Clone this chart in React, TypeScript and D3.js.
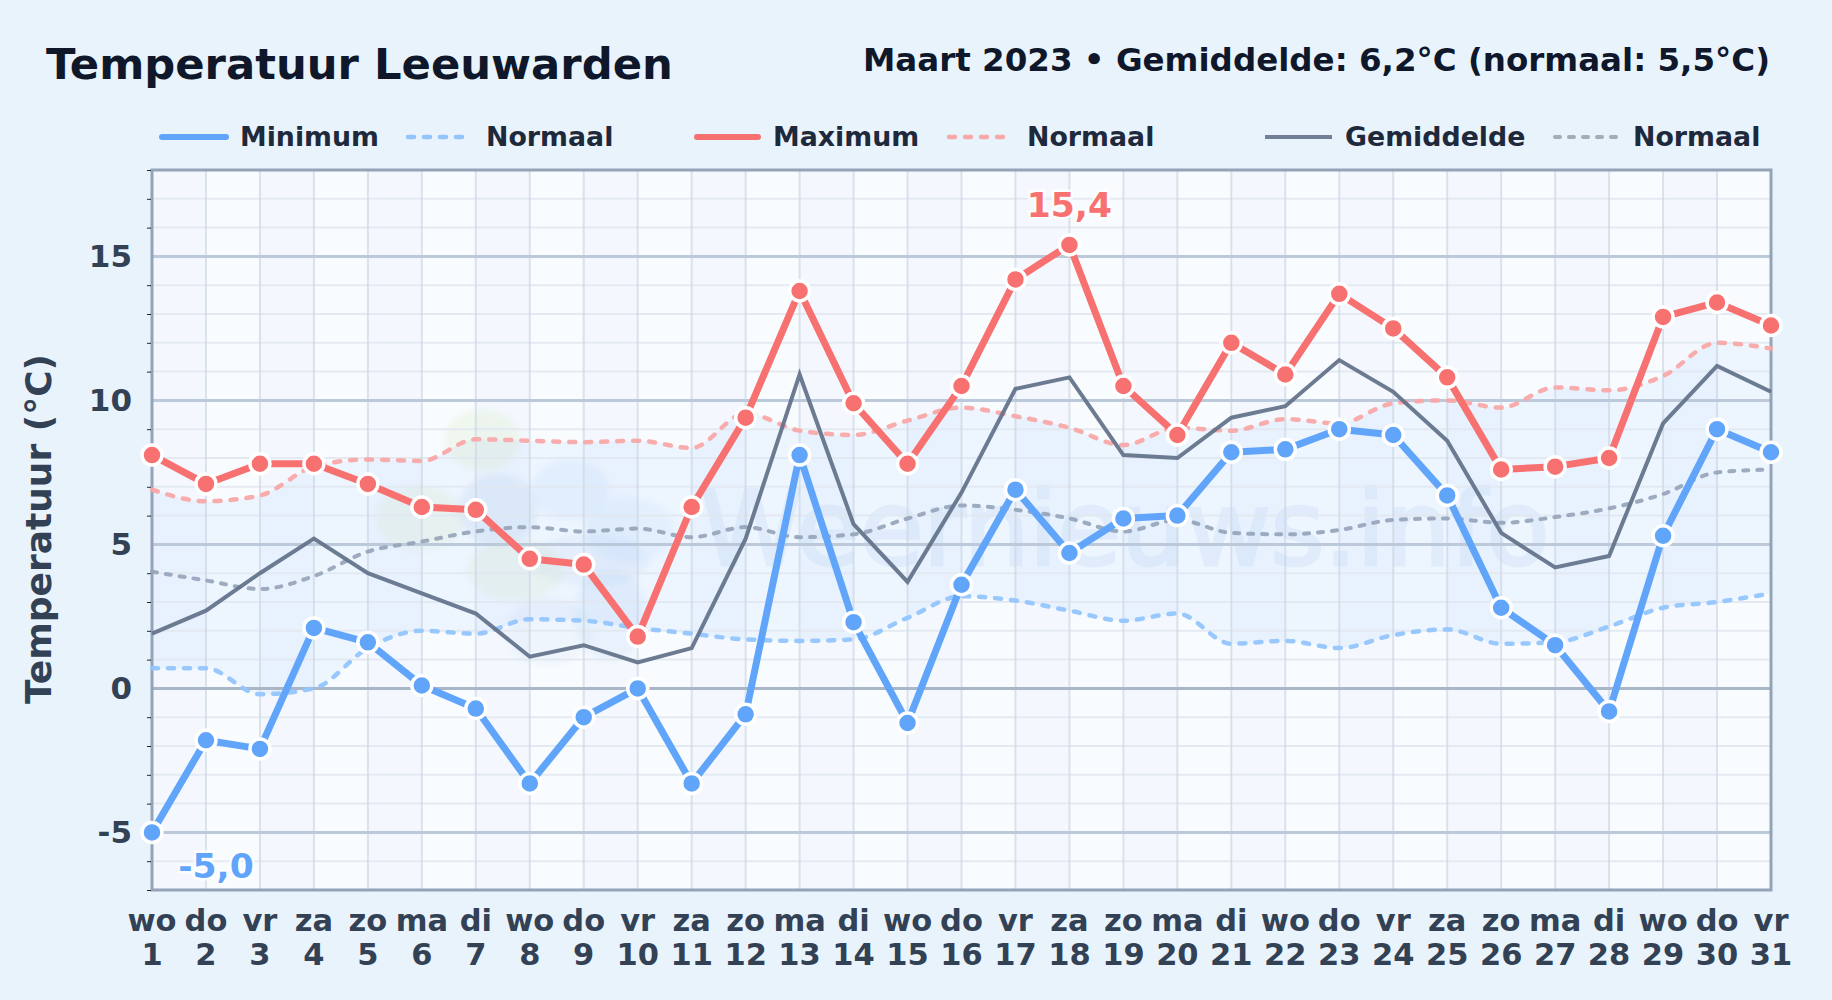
import React, { useRef, useEffect } from 'react';
import * as d3 from 'd3';

const dayNames = ['wo', 'do', 'vr', 'za', 'zo', 'ma', 'di', 'wo', 'do', 'vr', 'za', 'zo', 'ma', 'di', 'wo', 'do', 'vr', 'za', 'zo', 'ma', 'di', 'wo', 'do', 'vr', 'za', 'zo', 'ma', 'di', 'wo', 'do', 'vr'];
const days = d3.range(1, 32);

const minimum = [-5.0, -1.8, -2.1, 2.1, 1.6, 0.1, -0.7, -3.3, -1.0, 0.0, -3.3, -0.9, 8.1, 2.3, -1.2, 3.6, 6.9, 4.7, 5.9, 6.0, 8.2, 8.3, 9.0, 8.8, 6.7, 2.8, 1.5, -0.8, 5.3, 9.0, 8.2];
const maximum = [8.1, 7.1, 7.8, 7.8, 7.1, 6.3, 6.2, 4.5, 4.3, 1.8, 6.3, 9.4, 13.8, 9.9, 7.8, 10.5, 14.2, 15.4, 10.5, 8.8, 12.0, 10.9, 13.7, 12.5, 10.8, 7.6, 7.7, 8.0, 12.9, 13.4, 12.6];
const average = [1.9, 2.7, 4.0, 5.2, 4.0, 3.3, 2.6, 1.1, 1.5, 0.9, 1.4, 5.2, 10.9, 5.7, 3.7, 6.8, 10.4, 10.8, 8.1, 8.0, 9.4, 9.8, 11.4, 10.3, 8.6, 5.4, 4.2, 4.6, 9.2, 11.2, 10.3];
const normalMin = [0.7, 0.7, -0.2, 0.0, 1.4, 2.0, 1.9, 2.4, 2.35, 2.1, 1.9, 1.7, 1.65, 1.7, 2.45, 3.2, 3.05, 2.7, 2.35, 2.6, 1.55, 1.65, 1.4, 1.85, 2.05, 1.55, 1.6, 2.15, 2.8, 3.0, 3.3];
const normalMax = [6.9, 6.5, 6.7, 7.7, 7.95, 7.9, 8.65, 8.6, 8.55, 8.6, 8.35, 9.55, 8.95, 8.8, 9.3, 9.75, 9.45, 9.05, 8.45, 9.05, 8.95, 9.35, 9.2, 9.9, 10.0, 9.75, 10.45, 10.35, 10.85, 12.0, 11.8];
const normalAvg = [4.05, 3.75, 3.45, 3.9, 4.75, 5.1, 5.45, 5.6, 5.45, 5.55, 5.25, 5.6, 5.25, 5.35, 5.9, 6.35, 6.2, 5.9, 5.45, 5.85, 5.4, 5.35, 5.5, 5.85, 5.9, 5.75, 5.95, 6.25, 6.75, 7.5, 7.6];

const majorTicks = [-5, 0, 5, 10, 15];
const minorTicks = d3.range(-7, 19).filter(v => v % 5 !== 0);

const FONT = '"DejaVu Sans", sans-serif';
const BLUE = '#60a5fa';
const RED = '#f87171';
const SLATE = '#334155';

const App: React.FC = () => {
    const svgRef = useRef<SVGSVGElement | null>(null);
    const width = 1832;
    const height = 1000;
    const margin = { top: 170, right: 61, bottom: 110, left: 152 };

    useEffect(() => {
        if (!svgRef.current) return;

        const svg = d3.select(svgRef.current);
        svg.selectAll('*').remove();

        const x = d3.scaleLinear().domain([1, 31]).range([margin.left, width - margin.right]);
        const y = d3.scaleLinear().domain([-7, 18]).range([height - margin.bottom, margin.top]);
        const plotW = width - margin.left - margin.right;
        const plotH = height - margin.top - margin.bottom;

        svg.append('rect').attr('width', width).attr('height', height).attr('fill', '#e9f3fc');

        // Plot background, every other day a little darker
        svg.append('rect')
            .attr('x', margin.left).attr('y', margin.top)
            .attr('width', plotW).attr('height', plotH)
            .attr('fill', '#f9fcff');
        svg.append('g').selectAll('rect')
            .data(days.filter(d => d % 2 === 1 && d < 31))
            .join('rect')
            .attr('x', d => x(d))
            .attr('y', margin.top)
            .attr('width', d => x(d + 1) - x(d))
            .attr('height', plotH)
            .attr('fill', '#f4f8fe');

        // Band between the normals
        const band = d3.area<number>()
            .x(d => x(d))
            .y0(d => y(normalMin[d - 1]))
            .y1(d => y(normalMax[d - 1]))
            .curve(d3.curveMonotoneX);
        svg.append('path').attr('d', band(days)).attr('fill', 'rgba(96, 165, 250, 0.08)');

        // Watermark
        const wm = svg.append('g').attr('style', 'filter: blur(3px)');
        const blobs: [number, number, number, number, string][] = [
            [482, 440, 38, 30, 'rgba(200, 225, 160, 0.18)'],
            [420, 518, 44, 32, 'rgba(200, 225, 160, 0.16)'],
            [516, 570, 48, 30, 'rgba(200, 225, 160, 0.16)'],
            [498, 510, 40, 36, 'rgba(90, 140, 205, 0.09)'],
            [590, 560, 60, 26, 'rgba(90, 140, 205, 0.06)'],
            [570, 490, 38, 30, 'rgba(110, 175, 235, 0.09)'],
            [630, 530, 44, 32, 'rgba(110, 175, 235, 0.08)'],
            [610, 615, 36, 46, 'rgba(110, 175, 235, 0.09)'],
            [548, 632, 42, 34, 'rgba(90, 140, 205, 0.06)'],
        ];
        wm.selectAll('ellipse')
            .data(blobs)
            .join('ellipse')
            .attr('cx', d => d[0]).attr('cy', d => d[1])
            .attr('rx', d => d[2]).attr('ry', d => d[3])
            .attr('fill', d => d[4]);
        svg.append('text')
            .attr('x', 700).attr('y', 565)
            .attr('font-family', FONT).attr('font-size', 104)
            .attr('textLength', 850)
            .attr('fill', '#3f88d8').attr('stroke', '#3f88d8').attr('stroke-width', 3)
            .attr('opacity', 0.07)
            .text('Weernieuws.info');

        // Grid
        const grid = svg.append('g');
        grid.selectAll('line.minor')
            .data(minorTicks)
            .join('line')
            .attr('class', 'minor')
            .attr('x1', margin.left).attr('x2', width - margin.right)
            .attr('y1', d => y(d)).attr('y2', d => y(d))
            .attr('stroke', '#e2e8f0').attr('stroke-width', 2).attr('opacity', 0.85);
        grid.selectAll('line.day')
            .data(days)
            .join('line')
            .attr('class', 'day')
            .attr('x1', d => x(d)).attr('x2', d => x(d))
            .attr('y1', margin.top).attr('y2', height - margin.bottom)
            .attr('stroke', '#cbd5e1').attr('stroke-width', 2).attr('opacity', 0.65);
        grid.selectAll('line.major')
            .data(majorTicks)
            .join('line')
            .attr('class', 'major')
            .attr('x1', margin.left).attr('x2', width - margin.right)
            .attr('y1', d => y(d)).attr('y2', d => y(d))
            .attr('stroke', d => d === 0 ? '#a9b6c8' : '#bcc9da').attr('stroke-width', 3);

        // Frame
        svg.append('rect')
            .attr('x', margin.left).attr('y', margin.top)
            .attr('width', plotW).attr('height', plotH)
            .attr('fill', 'none').attr('stroke', '#94a3b8').attr('stroke-width', 3);

        // Axes
        const minorAxis = svg.append('g')
            .attr('transform', `translate(${margin.left - 1},0)`)
            .call(d3.axisLeft(y).tickValues(minorTicks.concat([-7, 18])).tickSize(4).tickFormat(() => ''));
        minorAxis.select('.domain').remove();
        minorAxis.selectAll('line').attr('stroke', '#1e293b');

        const yAxis = svg.append('g')
            .attr('transform', `translate(${margin.left},0)`)
            .call(d3.axisLeft(y).tickValues(majorTicks).tickSize(0).tickPadding(20).tickFormat(d => String(d)));
        yAxis.select('.domain').remove();
        yAxis.selectAll('text')
            .attr('font-family', FONT).attr('font-size', 31).attr('font-weight', 700)
            .attr('fill', SLATE);

        const labels = svg.append('g')
            .attr('font-family', FONT).attr('font-size', 30.5).attr('font-weight', 700)
            .attr('fill', SLATE).attr('text-anchor', 'middle');
        labels.selectAll('text.name')
            .data(days)
            .join('text')
            .attr('class', 'name')
            .attr('x', d => x(d)).attr('y', 931)
            .text(d => dayNames[d - 1]);
        labels.selectAll('text.num')
            .data(days)
            .join('text')
            .attr('class', 'num')
            .attr('x', d => x(d)).attr('y', 965)
            .text(d => d);

        // Lines
        const line = (values: number[], curve: d3.CurveFactory) => d3.line<number>()
            .x(d => x(d))
            .y(d => y(values[d - 1]))
            .curve(curve)(days);

        svg.append('path').attr('d', line(normalMin, d3.curveMonotoneX))
            .attr('fill', 'none').attr('stroke', '#93c5fd').attr('stroke-width', 4.5)
            .attr('stroke-dasharray', '6,10').attr('stroke-linecap', 'round').attr('opacity', 0.95);
        svg.append('path').attr('d', line(normalMax, d3.curveMonotoneX))
            .attr('fill', 'none').attr('stroke', '#f9a8a8').attr('stroke-width', 4.5)
            .attr('stroke-dasharray', '6,10').attr('stroke-linecap', 'round').attr('opacity', 0.95);
        svg.append('path').attr('d', line(normalAvg, d3.curveMonotoneX))
            .attr('fill', 'none').attr('stroke', '#94a3b8').attr('stroke-width', 4)
            .attr('stroke-dasharray', '5,9').attr('stroke-linecap', 'round').attr('opacity', 0.9);
        svg.append('path').attr('d', line(average, d3.curveLinear))
            .attr('fill', 'none').attr('stroke', '#64748b').attr('stroke-width', 4)
            .attr('stroke-linejoin', 'miter').attr('opacity', 0.95);

        const series: [number[], string][] = [[minimum, BLUE], [maximum, RED]];
        series.forEach(([values, color]) => {
            svg.append('path').attr('d', line(values, d3.curveLinear))
                .attr('fill', 'none').attr('stroke', color).attr('stroke-width', 7)
                .attr('stroke-linejoin', 'round').attr('stroke-linecap', 'round');
            svg.append('g').selectAll('circle')
                .data(days)
                .join('circle')
                .attr('cx', d => x(d))
                .attr('cy', d => y(values[d - 1]))
                .attr('r', 10)
                .attr('fill', color)
                .attr('stroke', '#fff')
                .attr('stroke-width', 3.5);
        });

        // Extreme labels
        const maxDay = days[d3.maxIndex(maximum)];
        const minDay = days[d3.minIndex(minimum)];
        const extremes: [string, number, number, string][] = [
            ['15,4', x(maxDay), 217, RED],
            ['-5,0', x(minDay) + 64, 878, BLUE],
        ];
        svg.append('g').selectAll('text')
            .data(extremes)
            .join('text')
            .attr('x', d => d[1]).attr('y', d => d[2])
            .attr('text-anchor', 'middle')
            .attr('font-family', FONT).attr('font-size', 34.5).attr('font-weight', 700)
            .attr('fill', d => d[3])
            .attr('stroke', '#fff').attr('stroke-width', 5).attr('stroke-opacity', 0.8)
            .attr('paint-order', 'stroke')
            .text(d => d[0]);

        // Titles
        svg.append('text')
            .attr('x', 46).attr('y', 79)
            .attr('font-family', FONT).attr('font-size', 43.3).attr('font-weight', 700)
            .attr('fill', '#0f172a')
            .text('Temperatuur Leeuwarden');
        svg.append('text')
            .attr('x', 1770).attr('y', 71)
            .attr('text-anchor', 'end')
            .attr('font-family', FONT).attr('font-size', 32.5).attr('font-weight', 700)
            .attr('fill', '#0f172a')
            .text('Maart 2023 • Gemiddelde: 6,2°C (normaal: 5,5°C)');
        svg.append('text')
            .attr('transform', 'translate(51,529) rotate(-90)')
            .attr('text-anchor', 'middle')
            .attr('font-family', FONT).attr('font-size', 36).attr('font-weight', 700)
            .attr('fill', SLATE)
            .text('Temperatuur (°C)');

        // Legend
        const legend: { label: string; x0: number; x1: number; tx: number; color: string; w: number; dash?: string }[] = [
            { label: 'Minimum', x0: 162, x1: 226, tx: 240, color: BLUE, w: 6 },
            { label: 'Normaal', x0: 408, x1: 463, tx: 486, color: '#93c5fd', w: 4.5, dash: '6,10' },
            { label: 'Maximum', x0: 697, x1: 758, tx: 773, color: RED, w: 6 },
            { label: 'Normaal', x0: 949, x1: 1004, tx: 1027, color: '#f9a8a8', w: 4.5, dash: '6,10' },
            { label: 'Gemiddelde', x0: 1265, x1: 1332, tx: 1345, color: '#718096', w: 4 },
            { label: 'Normaal', x0: 1555, x1: 1617, tx: 1633, color: '#a3acb9', w: 4, dash: '5,9' },
        ];
        const legendG = svg.append('g');
        legendG.selectAll('line')
            .data(legend)
            .join('line')
            .attr('x1', d => d.x0).attr('x2', d => d.x1)
            .attr('y1', 137).attr('y2', 137)
            .attr('stroke', d => d.color).attr('stroke-width', d => d.w)
            .attr('stroke-linecap', d => d.label === 'Gemiddelde' ? 'butt' : 'round')
            .attr('stroke-dasharray', d => d.dash ?? null);
        legendG.selectAll('text')
            .data(legend)
            .join('text')
            .attr('x', d => d.tx).attr('y', 146)
            .attr('font-family', FONT).attr('font-size', 26.8).attr('font-weight', 700)
            .attr('fill', '#1e293b')
            .text(d => d.label);
    }, []);

    return <svg ref={svgRef} width={width} height={height} viewBox={`0 0 ${width} ${height}`} style={{ position: 'absolute', left: 0, top: 0 }}></svg>;
};

export default App;
